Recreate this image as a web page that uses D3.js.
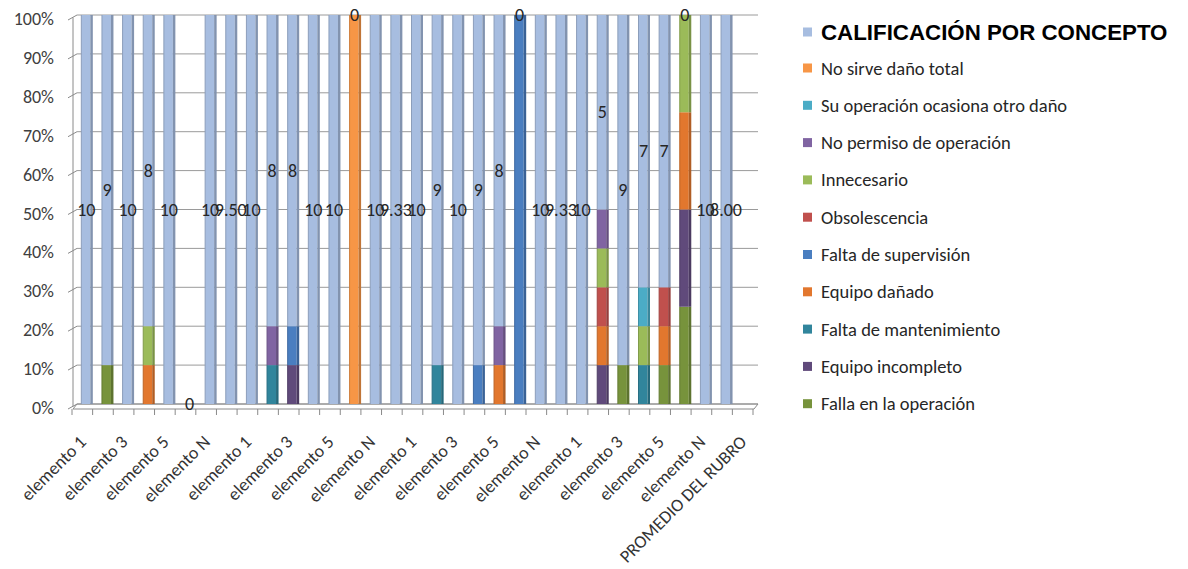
<!DOCTYPE html>
<html>
<head>
<meta charset="utf-8">
<script src="https://cdn.jsdelivr.net/npm/d3@7"></script>
<style>
  html, body { margin: 0; padding: 0; background: #ffffff; }
  svg { display: block; }
</style>
</head>
<body>
<svg id="chart" width="1188" height="569"></svg>
<script>
// ---- Data -------------------------------------------------------------
const categories = [
  "elemento 1", "elemento 2", "elemento 3", "elemento 4", "elemento 5", "elemento 6", "elemento N", "PROMEDIO",
  "elemento 1", "elemento 2", "elemento 3", "elemento 4", "elemento 5", "elemento 6", "elemento N", "PROMEDIO",
  "elemento 1", "elemento 2", "elemento 3", "elemento 4", "elemento 5", "elemento 6", "elemento N", "PROMEDIO",
  "elemento 1", "elemento 2", "elemento 3", "elemento 4", "elemento 5", "elemento 6", "elemento N", "PROMEDIO",
  "PROMEDIO DEL RUBRO"
];

// Grade per element (0-10); group averages leave out the zero grades
const calificacion = [
  10, 9, 10, 8, 10, 0, 10, 9.50,
  10, 8, 8, 10, 10, 0, 10, 9.33,
  10, 9, 10, 9, 8, 0, 10, 9.33,
  10, 5, 9, 7, 7, 0, 10, 8.00,
  null
];

// Points deducted for each concept
const fallaOperacion = [
  0, 1, 0, 0, 0, 0, 0, 0,
  0, 0, 0, 0, 0, 0, 0, 0,
  0, 0, 0, 0, 0, 0, 0, 0,
  0, 0, 1, 0, 1, 1, 0, 0,
  0
];
const equipoIncompleto = [
  0, 0, 0, 0, 0, 0, 0, 0,
  0, 0, 1, 0, 0, 0, 0, 0,
  0, 0, 0, 0, 0, 0, 0, 0,
  0, 1, 0, 0, 0, 1, 0, 0,
  0
];
const faltaMantenimiento = [
  0, 0, 0, 0, 0, 0, 0, 0,
  0, 1, 0, 0, 0, 0, 0, 0,
  0, 1, 0, 0, 0, 0, 0, 0,
  0, 0, 0, 1, 0, 0, 0, 0,
  0
];
const equipoDanado = [
  0, 0, 0, 1, 0, 0, 0, 0,
  0, 0, 0, 0, 0, 0, 0, 0,
  0, 0, 0, 0, 1, 0, 0, 0,
  0, 1, 0, 0, 1, 1, 0, 0,
  0
];
const faltaSupervision = [
  0, 0, 0, 0, 0, 0, 0, 0,
  0, 0, 1, 0, 0, 0, 0, 0,
  0, 0, 0, 1, 0, 1, 0, 0,
  0, 0, 0, 0, 0, 0, 0, 0,
  0
];
const obsolescencia = [
  0, 0, 0, 0, 0, 0, 0, 0,
  0, 0, 0, 0, 0, 0, 0, 0,
  0, 0, 0, 0, 0, 0, 0, 0,
  0, 1, 0, 0, 1, 0, 0, 0,
  0
];
const innecesario = [
  0, 0, 0, 1, 0, 0, 0, 0,
  0, 0, 0, 0, 0, 0, 0, 0,
  0, 0, 0, 0, 0, 0, 0, 0,
  0, 1, 0, 1, 0, 1, 0, 0,
  0
];
const noPermiso = [
  0, 0, 0, 0, 0, 0, 0, 0,
  0, 1, 0, 0, 0, 0, 0, 0,
  0, 0, 0, 0, 1, 0, 0, 0,
  0, 1, 0, 0, 0, 0, 0, 0,
  0
];
const suOperacion = [
  0, 0, 0, 0, 0, 0, 0, 0,
  0, 0, 0, 0, 0, 0, 0, 0,
  0, 0, 0, 0, 0, 0, 0, 0,
  0, 0, 0, 1, 0, 0, 0, 0,
  0
];
const noSirve = [
  0, 0, 0, 0, 0, 0, 0, 0,
  0, 0, 0, 0, 0, 1, 0, 0,
  0, 0, 0, 0, 0, 0, 0, 0,
  0, 0, 0, 0, 0, 0, 0, 0,
  0
];

const yTicks = [0, 0.1, 0.2, 0.3, 0.4, 0.5, 0.6, 0.7, 0.8, 0.9, 1];
const labelEvery = 2;

// ---- Series (stack order, bottom to top) -------------------------------
const seriesDefs = [
  { key: "fallaOperacion",     name: "Falla en la operación",           color: "#77933C", values: fallaOperacion },
  { key: "equipoIncompleto",   name: "Equipo incompleto",               color: "#604A7B", values: equipoIncompleto },
  { key: "faltaMantenimiento", name: "Falta de mantenimiento",          color: "#31859C", values: faltaMantenimiento },
  { key: "equipoDanado",       name: "Equipo dañado",                   color: "#E2772E", values: equipoDanado },
  { key: "faltaSupervision",   name: "Falta de supervisión",            color: "#4A7EC0", values: faltaSupervision },
  { key: "obsolescencia",      name: "Obsolescencia",                   color: "#C0504D", values: obsolescencia },
  { key: "innecesario",        name: "Innecesario",                     color: "#9BBB59", values: innecesario },
  { key: "noPermiso",          name: "No permiso de operación",         color: "#8064A2", values: noPermiso },
  { key: "suOperacion",        name: "Su operación ocasiona otro daño", color: "#4BACC6", values: suOperacion },
  { key: "noSirve",            name: "No sirve daño total",             color: "#F79646", values: noSirve },
  { key: "calificacion",       name: "CALIFICACIÓN POR CONCEPTO",       color: "#A7BDE0", values: calificacion }
];

const rows = categories.map((c, i) => {
  const r = { index: i };
  seriesDefs.forEach(s => { r[s.key] = s.values[i] == null ? 0 : s.values[i]; });
  return r;
});

const stacked = d3.stack()
  .keys(seriesDefs.map(s => s.key))
  .offset(d3.stackOffsetExpand)(rows);

// ---- Layout -------------------------------------------------------------
const svg = d3.select("#chart");
const FONT = "Carlito, Calibri, Lato, 'Open Sans', sans-serif";

const backLeft = 77, backRight = 758;
const depthX = -4, depthY = 5;

const x = d3.scaleBand()
  .domain(d3.range(categories.length))
  .range([76, 757]);
const y = d3.scaleLinear().domain([0, 1]).range([404, 15]);
const bw = x.bandwidth();

const axisColor = "#8a8a8a";

// back wall grid lines
const grid = svg.append("g");
grid.selectAll("line.grid")
  .data(yTicks)
  .join("line")
  .attr("x1", backLeft).attr("x2", backRight)
  .attr("y1", d => y(d)).attr("y2", d => y(d))
  .attr("stroke", "#9a9a9a").attr("stroke-width", 1);

// side wall edges with small slanted ticks
grid.selectAll("line.side")
  .data(yTicks)
  .join("line")
  .attr("x1", backLeft).attr("y1", d => y(d))
  .attr("x2", backLeft - 9).attr("y2", d => y(d) + 5)
  .attr("stroke", axisColor);
grid.append("line")
  .attr("x1", 73).attr("x2", 73)
  .attr("y1", y(1) + 2.5).attr("y2", y(0) + 2.5)
  .attr("stroke", axisColor);

// floor
grid.append("path")
  .attr("d", `M${backLeft},${y(0)} L${backRight},${y(0)} L${backRight + depthX},${y(0) + depthY} L${backLeft + depthX},${y(0) + depthY} Z`)
  .attr("fill", "none").attr("stroke", axisColor);

// category ticks on the front edge
grid.selectAll("line.xtick")
  .data(d3.range(categories.length + 1))
  .join("line")
  .attr("x1", i => 76 + depthX + i * bw).attr("x2", i => 76 + depthX + i * bw)
  .attr("y1", y(0) + depthY).attr("y2", y(0) + depthY + 6)
  .attr("stroke", axisColor);

// y axis labels
svg.append("g").selectAll("text")
  .data(yTicks)
  .join("text")
  .attr("x", 54)
  .attr("y", d => y(d) + 4)
  .attr("text-anchor", "end")
  .attr("dominant-baseline", "central")
  .attr("font-family", FONT)
  .attr("font-size", 18)
  .attr("fill", "#404040")
  .text(d3.format(".0%"));

// ---- Bars -------------------------------------------------------------
const faceW = 9, sideW = 2.5;
const barsG = svg.append("g");
stacked.forEach((layer, li) => {
  const def = seriesDefs[li];
  const segs = layer.filter(d => d[1] - d[0] > 0);
  const g = barsG.append("g");
  g.selectAll("rect.face")
    .data(segs)
    .join("rect")
    .attr("x", d => x(d.data.index) + bw / 2 - faceW / 2 - 0.5)
    .attr("y", d => y(d[1]))
    .attr("width", faceW)
    .attr("height", d => y(d[0]) - y(d[1]))
    .attr("fill", def.color);
  g.selectAll("rect.side")
    .data(segs)
    .join("rect")
    .attr("x", d => x(d.data.index) + bw / 2 + faceW / 2 - 0.5)
    .attr("y", d => y(d[1]))
    .attr("width", sideW)
    .attr("height", d => y(d[0]) - y(d[1]))
    .attr("fill", d3.color(def.color).darker(0.7));
  g.selectAll("line.edge")
    .data(segs)
    .join("line")
    .attr("x1", d => x(d.data.index) + bw / 2 - faceW / 2 - 0.5)
    .attr("x2", d => x(d.data.index) + bw / 2 - faceW / 2 - 0.5)
    .attr("y1", d => y(d[1])).attr("y2", d => y(d[0]))
    .attr("stroke", d3.color(def.color).darker(0.5))
    .attr("stroke-width", 1);
});

// grade labels, centred on the grade segment
const gradeLayer = stacked[stacked.length - 1];
const fmtInt = d3.format("d"), fmtAvg = d3.format(".2f");
svg.append("g").selectAll("text")
  .data(gradeLayer.filter(d => calificacion[d.data.index] != null))
  .join("text")
  .attr("x", d => x(d.data.index) + bw / 2)
  .attr("y", d => y((d[0] + d[1]) / 2))
  .attr("text-anchor", "middle")
  .attr("dominant-baseline", "central")
  .attr("font-family", FONT)
  .attr("font-size", 18)
  .attr("fill", "#262626")
  .text(d => {
    const v = calificacion[d.data.index];
    return categories[d.data.index] === "PROMEDIO" ? fmtAvg(v) : fmtInt(v);
  });

// category labels
svg.append("g").selectAll("text")
  .data(d3.range(0, categories.length, labelEvery))
  .join("text")
  .attr("transform", i => `translate(${x(i) + bw / 2 + 1},443) rotate(-45)`)
  .attr("text-anchor", "end")
  .attr("font-family", FONT)
  .attr("font-size", 18)
  .attr("fill", "#333333")
  .text(i => categories[i]);

// ---- Legend -------------------------------------------------------------
const legend = svg.append("g");
const legendItems = seriesDefs.slice().reverse();
legendItems.forEach((s, k) => {
  const cy = k === 0 ? 32 : 68 + (k - 1) * 37.3;
  legend.append("rect")
    .attr("x", 803).attr("y", cy - 4.5)
    .attr("width", 9).attr("height", 9)
    .attr("fill", s.color);
  legend.append("text")
    .attr("x", 821).attr("y", cy)
    .attr("dominant-baseline", "central")
    .attr("font-family", k === 0 ? "'Liberation Sans', Arial, sans-serif" : FONT)
    .attr("font-weight", k === 0 ? "bold" : "normal")
    .attr("font-size", k === 0 ? 22.3 : 18.5)
    .attr("fill", k === 0 ? "#000000" : "#262626")
    .text(s.name);
});
</script>
</body>
</html>
